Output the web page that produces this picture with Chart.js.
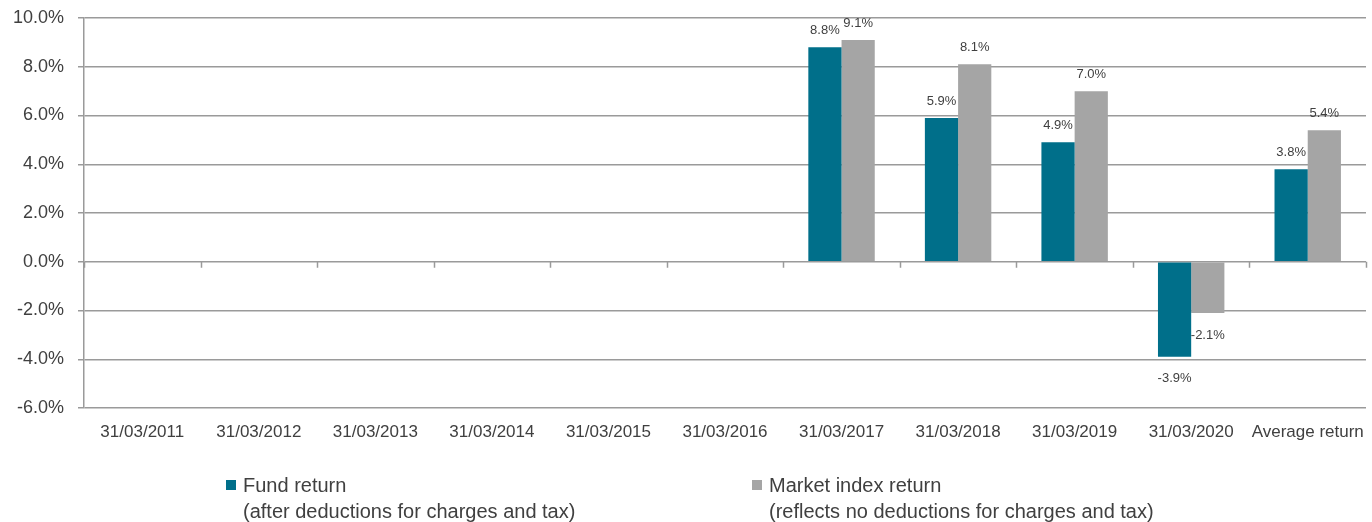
<!DOCTYPE html>
<html>
<head>
<meta charset="utf-8">
<script src="https://cdn.jsdelivr.net/npm/chart.js@4/dist/chart.umd.min.js"></script>
<style>
    body { margin: 0; background: #fff; font-family: 'Liberation Sans', Arial, sans-serif; }
    #wrap { position: relative; width: 1372px; height: 522px; }
    #legend { position: absolute; top: 472px; left: 0; width: 1372px; height: 50px; color: #404040; font-size: 20px; }
    .item { position: absolute; top: 0; line-height: 26px; }
    .box { position: absolute; left: -17px; top: 8px; width: 10px; height: 10px; }
</style>
</head>
<body>
<div id="wrap">
    <canvas id="returnsChart" width="1372" height="522"></canvas>
    <div id="legend"></div>
</div>
<script>
const categories = ['31/03/2011', '31/03/2012', '31/03/2013', '31/03/2014', '31/03/2015', '31/03/2016',
    '31/03/2017', '31/03/2018', '31/03/2019', '31/03/2020', 'Average return'];
const fundReturn = [null, null, null, null, null, null, 8.8, 5.9, 4.9, -3.9, 3.8];
const marketReturn = [null, null, null, null, null, null, 9.1, 8.1, 7.0, -2.1, 5.4];
const seriesNames = ['Fund return', 'Market index return'];
const seriesNotes = ['(after deductions for charges and tax)', '(reflects no deductions for charges and tax)'];
const seriesColors = ['#006F8A', '#A5A5A5'];

const gridColor = '#9a9a9a';
const textColor = '#404040';

// tick marks on the zero line plus value labels on each bar
const extrasPlugin = {
    id: 'extras',
    afterDatasetsDraw(chart) {
        const ctx = chart.ctx;
        const x = chart.scales.x;
        const y = chart.scales.y;
        const zero = y.getPixelForValue(0);
        const step = (x.right - x.left) / categories.length;
        ctx.save();
        ctx.strokeStyle = gridColor;
        ctx.lineWidth = 1.5;
        for (let i = 0; i <= categories.length; i++) {
            const px = Math.round(x.left + i * step) + 0.5;
            ctx.beginPath();
            ctx.moveTo(px, zero);
            ctx.lineTo(px, zero + 6);
            ctx.stroke();
        }
        ctx.fillStyle = textColor;
        ctx.font = '13px "Liberation Sans", Arial, sans-serif';
        ctx.textAlign = 'center';
        ctx.textBaseline = 'middle';
        chart.data.datasets.forEach((ds, di) => {
            chart.getDatasetMeta(di).data.forEach((bar, i) => {
                const v = ds.data[i];
                if (v === null) return;
                const ly = v >= 0 ? bar.y - 17 : bar.y + 22;
                ctx.fillText(v.toFixed(1) + '%', bar.x, ly);
            });
        });
        ctx.restore();
    }
};

new Chart(document.getElementById('returnsChart').getContext('2d'), {
    type: 'bar',
    data: {
        labels: categories,
        datasets: [
            { label: seriesNames[0], data: fundReturn, backgroundColor: seriesColors[0] },
            { label: seriesNames[1], data: marketReturn, backgroundColor: seriesColors[1] }
        ]
    },
    options: {
        responsive: false,
        animation: false,
        datasets: { bar: { categoryPercentage: 0.57, barPercentage: 1.0 } },
        layout: { padding: { top: 18, right: 6, left: 0, bottom: 0 } },
        plugins: { legend: { display: false }, tooltip: { enabled: false } },
        scales: {
            x: {
                grid: { display: false },
                border: { display: false },
                ticks: {
                    color: textColor,
                    font: { family: '"Liberation Sans", Arial, sans-serif', size: 17 },
                    padding: 6,
                    maxRotation: 0,
                    autoSkip: false
                },
                afterFit(scale) {
                    scale.height = 114;
                    scale.paddingLeft = 0;
                    scale.paddingRight = 0;
                }
            },
            y: {
                min: -6,
                max: 10,
                ticks: {
                    stepSize: 2,
                    color: textColor,
                    font: { family: '"Liberation Sans", Arial, sans-serif', size: 18 },
                    padding: 14,
                    callback: v => v.toFixed(1) + '%'
                },
                grid: { color: gridColor, lineWidth: 1.5, tickLength: 6 },
                border: { color: gridColor, width: 1.5 },
                afterFit(scale) {
                    scale.width = 84;
                    scale.paddingTop = 0;
                    scale.paddingBottom = 0;
                }
            }
        }
    },
    plugins: [extrasPlugin]
});

// legend with two-line entries
const legend = document.getElementById('legend');
const legendLeft = [243, 769];
seriesNames.forEach((name, i) => {
    legend.insertAdjacentHTML('beforeend', `
        <div class="item" style="left:${legendLeft[i]}px">
            <span class="box" style="background:${seriesColors[i]}"></span>
            ${name}<br>${seriesNotes[i]}
        </div>`);
});
</script>
</body>
</html>
